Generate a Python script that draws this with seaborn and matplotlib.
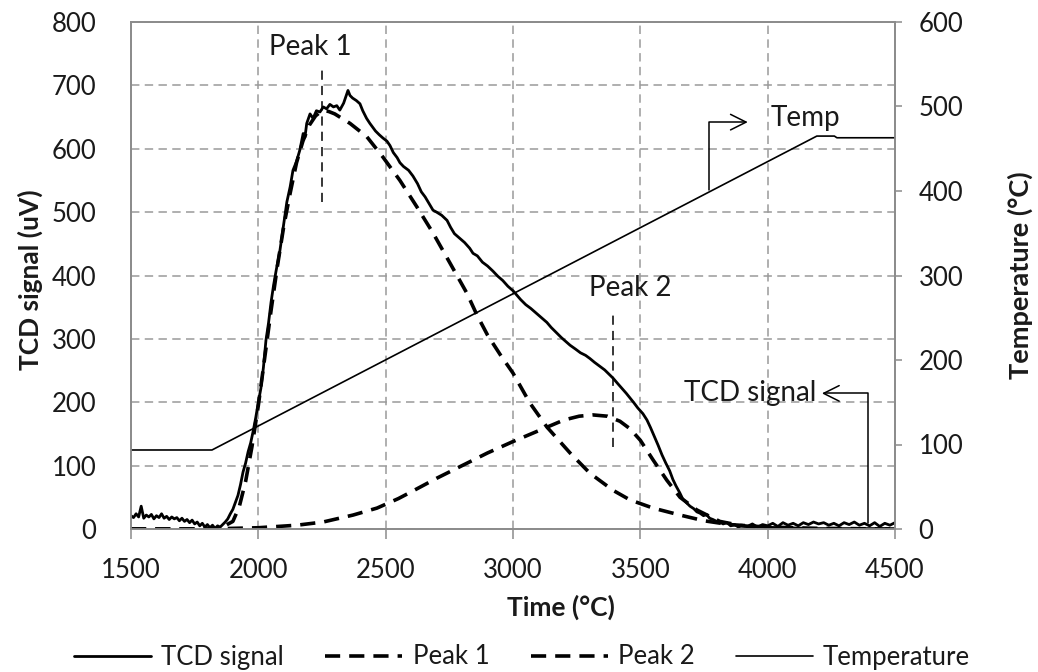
import matplotlib
matplotlib.use("Agg")
import matplotlib.pyplot as plt
import seaborn as sns
import pandas as pd

# --- TCD signal (uV) vs time ---
time_tcd = [
    1500, 1510, 1520, 1530, 1540, 1550, 1560, 1570, 1580, 1590, 1600, 1610, 1620, 1630,
    1640, 1650, 1660, 1670, 1680, 1690, 1700, 1710, 1720, 1730, 1740, 1750, 1760, 1770,
    1780, 1790, 1800, 1810, 1820, 1830, 1840, 1850,
    1860, 1870, 1880, 1890, 1900, 1910, 1920, 1930, 1940, 1950, 1960, 1970, 1980, 1990,
    2000, 2010, 2020, 2030, 2040, 2050, 2060, 2070, 2085, 2100, 2112, 2125, 2136, 2150,
    2163, 2176, 2183, 2190, 2203, 2215, 2228, 2242, 2255, 2268, 2281, 2295, 2308, 2320,
    2335, 2352, 2360, 2370, 2385, 2399, 2410, 2425, 2438, 2460, 2475, 2489, 2505, 2517,
    2530, 2545, 2556, 2570, 2590, 2607, 2625, 2640, 2655, 2670, 2686, 2700, 2720, 2741,
    2755, 2770, 2790, 2810, 2830, 2843, 2860, 2880, 2900, 2921, 2940, 2960, 2980, 3000,
    3015, 3030, 3050, 3070, 3090, 3110, 3133, 3150, 3170, 3190, 3210, 3224, 3245, 3265,
    3285, 3302, 3320, 3340, 3360, 3380, 3393, 3410, 3430, 3445, 3459, 3475, 3490, 3510,
    3526, 3540, 3555, 3570, 3585, 3600, 3615, 3628, 3640, 3655, 3667, 3680, 3695, 3710,
    3722, 3734, 3748, 3760, 3772, 3785, 3800, 3812, 3825, 3840, 3855, 3870, 3885, 3900,
    3920, 3940, 3960, 3980, 4000, 4020, 4040, 4060, 4080, 4100, 4120, 4140, 4160, 4180,
    4200, 4220, 4240, 4260, 4280, 4300, 4320, 4340, 4360, 4380, 4400, 4420, 4440, 4460,
    4480, 4500,
]
tcd_signal = [
    21, 18, 24, 19, 36, 17, 22, 19, 23, 16, 21, 18, 24, 17,
    20, 15, 19, 16, 18, 13, 17, 12, 15, 10, 14, 8, 11, 5,
    9, 3, 7, 2, 6, 1, 5, 3,
    7, 11, 16, 24, 31, 42, 53, 70, 90, 104, 122, 136, 155, 176,
    200, 222, 255, 298, 325, 358, 385, 408, 440, 482, 516, 540, 566, 580,
    598, 624, 618, 640, 655, 648, 660, 658, 666, 663, 670, 666, 668, 661,
    672, 692, 684, 680, 676, 671, 660, 648, 640, 628, 622, 617, 612, 605,
    594, 586, 578, 572, 566, 557, 545, 532, 524, 514, 503, 500, 495, 487,
    476, 466, 459, 452, 443, 435, 431, 421, 415, 407, 399, 392, 383, 376,
    369, 362, 354, 348, 341, 334, 326, 318, 310, 302, 295, 290, 284, 278,
    274, 269, 263, 257, 251, 243, 238, 230, 221, 214, 207, 199, 191, 182,
    172, 160, 146, 132, 117, 104, 92, 78, 68, 57, 47, 42, 36, 32,
    27, 25, 21, 23, 17, 15, 12, 11, 8, 10, 5, 7, 3, 6,
    4, 8, 3, 7, 5, 9, 4, 10, 6, 9, 5, 10, 7, 11,
    8, 10, 6, 9, 5, 10, 7, 11, 6, 9, 5, 10, 4, 9,
    6, 10,
]

# --- Deconvoluted peaks (uV) ---
time_peak1 = [1500, 1700, 1800, 1850, 1900, 1925, 1950, 1975, 2000, 2025, 2050, 2075,
              2100, 2125, 2150, 2175, 2200, 2225, 2250, 2275, 2300, 2360, 2426, 2489,
              2556, 2623, 2686, 2752, 2819, 2858, 2900, 2950, 3000, 3066, 3133, 3224,
              3302, 3393, 3459, 3550, 3656, 3750, 3850, 4000, 4200, 4500]
peak1 = [0, 0, 0, 1, 12, 35, 75, 130, 195, 270, 345, 415,
         478, 530, 578, 612, 637, 652, 660, 659, 655, 640, 619, 587,
         550, 508, 467, 420, 372, 338, 306, 275, 246, 199, 161, 120,
         88, 61, 46, 33, 22, 13, 7, 3, 1, 0]

time_peak2 = [1500, 1800, 2000, 2152, 2254, 2372, 2466, 2550, 2607, 2700, 2800, 2900,
              3000, 3100, 3200, 3260, 3314, 3370, 3420, 3460, 3500, 3550, 3604, 3656,
              3722, 3812, 3900, 4000, 4200, 4500]
peak2 = [0, 0, 2, 6, 11, 22, 33, 48, 60, 80, 100, 120,
         138, 155, 172, 178, 180, 178, 170, 158, 140, 109, 77, 50,
         30, 12, 5, 2, 0, 0]

# --- Temperature programme (°C) ---
time_temp = [1500, 1818, 4193, 4262, 4272, 4500]
temperature = [93.5, 93.5, 465, 465, 463, 463]

# Peak centres marked with short vertical dashed lines
peak1_centre = 2250
peak2_centre = 3393

x_ticks = [1500, 2000, 2500, 3000, 3500, 4000, 4500]
left_ticks = [0, 100, 200, 300, 400, 500, 600, 700, 800]
right_ticks = [0, 100, 200, 300, 400, 500, 600]

df_tcd = pd.DataFrame({"time": time_tcd, "signal": tcd_signal})
df_p1 = pd.DataFrame({"time": time_peak1, "signal": peak1})
df_p2 = pd.DataFrame({"time": time_peak2, "signal": peak2})
df_temp = pd.DataFrame({"time": time_temp, "temp": temperature})

sns.set_theme(style="white")
plt.rcParams["font.family"] = ["Lato", "DejaVu Sans"]

TXT = "#1a1a1a"
GRID = "#9a9a9a"
SPINE = "#8c8c8c"

fig = plt.figure(figsize=(10.38, 6.72), dpi=100)
ax = fig.add_axes([131 / 1038, 1 - 529 / 672, 764 / 1038, 507 / 672])
ax2 = ax.twinx()

dash_style = (0, (4.2, 2.5))
sns.lineplot(data=df_tcd, x="time", y="signal", ax=ax, color="black", lw=2.0,
             sort=False, estimator=None, label="TCD signal", zorder=4)
sns.lineplot(data=df_p1, x="time", y="signal", ax=ax, color="black", lw=2.6,
             linestyle=dash_style, sort=False, estimator=None, label="Peak 1", zorder=3)
sns.lineplot(data=df_p2, x="time", y="signal", ax=ax, color="black", lw=2.6,
             linestyle=dash_style, sort=False, estimator=None, label="Peak 2", zorder=3)
sns.lineplot(data=df_temp, x="time", y="temp", ax=ax2, color="black", lw=1.2,
             sort=False, estimator=None, label="Temperature")

# Axis ranges and ticks
ax.set_xlim(1500, 4500)
ax.set_ylim(0, 800)
ax2.set_ylim(0, 600)
ax.set_xticks(x_ticks)
ax.set_yticks(left_ticks)
ax2.set_yticks(right_ticks)
ax.set_xlabel("")
ax.set_ylabel("")
ax2.set_ylabel("")

ax.grid(True, color=GRID, linestyle=(0, (5.5, 3.5)), lw=1.1)
ax.set_axisbelow(True)
for a in (ax, ax2):
    for s in a.spines.values():
        s.set_color(SPINE)
        s.set_linewidth(1.3)
        s.set_visible(True)

ax.tick_params(axis="y", which="both", left=False, right=False, labelsize=18.5,
               labelcolor=TXT, pad=19)
ax.tick_params(axis="x", bottom=True, direction="out", length=7, width=1.1,
               color=SPINE, labelsize=18.5, labelcolor=TXT, pad=14)
ax2.tick_params(axis="y", right=True, direction="out", length=5, width=1.1,
                color=SPINE, labelsize=18.5, labelcolor=TXT, pad=12)

# Axis titles
fig.text(561 / 1038, 1 - 607 / 672, "Time (°C)", ha="center", va="center",
         fontsize=19, fontweight="bold", color=TXT)
fig.text(30 / 1038, 1 - 280 / 672, "TCD signal (uV)", ha="center", va="center",
         rotation=90, fontsize=19, fontweight="bold", color=TXT)
fig.text(1020 / 1038, 1 - 275 / 672, "Temperature (°C)", ha="center", va="center",
         rotation=90, fontsize=19.5, fontweight="bold", color=TXT)

# Peak markers and labels
ax.vlines(peak1_centre, 516, 732, colors="black", lw=1.1, linestyles=(0, (6, 4)), zorder=5)
ax.vlines(peak2_centre, 129, 345, colors="black", lw=1.1, linestyles=(0, (6, 4)), zorder=5)
ax.text(2203, 760, "Peak 1", ha="center", va="center", fontsize=20, color=TXT)
ax.text(3459, 380, "Peak 2", ha="center", va="center", fontsize=20, color=TXT)

# Series call-outs with bent arrows
ax.text(4150, 648, "Temp", ha="center", va="center", fontsize=20, color=TXT)
ax.annotate("", xy=(3922, 642), xytext=(3769, 535),
            arrowprops=dict(arrowstyle="->", color="black", lw=1.1, mutation_scale=28,
                            shrinkA=0, shrinkB=0,
                            connectionstyle="angle,angleA=90,angleB=0,rad=0"))
ax.text(3930, 214, "TCD signal", ha="center", va="center", fontsize=20, color=TXT)
ax.annotate("", xy=(4213, 214), xytext=(4394, 9),
            arrowprops=dict(arrowstyle="->", color="black", lw=1.1, mutation_scale=28,
                            shrinkA=0, shrinkB=0,
                            connectionstyle="angle,angleA=90,angleB=0,rad=0"))

# Combined legend below the plot
handles = ax.get_lines()[:3] + ax2.get_lines()[:1]
labels = ["TCD signal", "Peak 1", "Peak 2", "Temperature"]
for a in (ax, ax2):
    if a.get_legend() is not None:
        a.get_legend().remove()
fig.legend(handles, labels, loc="center", bbox_to_anchor=(0.503, 1 - 657 / 672),
           ncol=4, frameon=False, fontsize=18.5, handlelength=3.0, handletextpad=0.4,
           columnspacing=1.6, labelcolor=TXT)

fig.savefig("out.png", dpi=100)
